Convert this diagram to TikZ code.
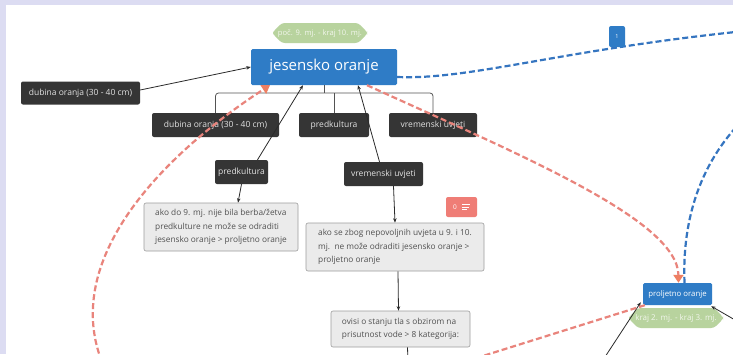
\documentclass[tikz,border=0pt]{standalone}
\usepackage{fontspec}
\setmainfont{Open Sans}
\usetikzlibrary{arrows.meta,shapes.misc,calc}
\definecolor{lav}{HTML}{DCDCF2}
\definecolor{darkn}{HTML}{353535}
\definecolor{darkt}{HTML}{E2E2E2}
\definecolor{bluen}{HTML}{2F7CC6}
\definecolor{greenn}{HTML}{B8D39E}
\definecolor{greent}{HTML}{F2F6EC}
\definecolor{grayf}{HTML}{EBEBEB}
\definecolor{grayb}{HTML}{9C9C9C}
\definecolor{grayt}{HTML}{505050}
\definecolor{redl}{HTML}{E9847C}
\definecolor{redh}{HTML}{EE7F62}
\definecolor{bluel}{HTML}{3575C0}
\definecolor{badger}{HTML}{EF7D76}
\definecolor{linec}{HTML}{2A2A2A}
\begin{document}
\begin{tikzpicture}[x=1pt,y=-1pt,
  darkbox/.style={fill=darkn, rounded corners=2pt, text=darkt, font=\fontsize{8.5}{10}\selectfont, inner sep=0pt, minimum height=24pt},
  bluebox/.style={fill=bluen, rounded corners=1.5pt, text=white, inner sep=0pt},
  greenbox/.style={chamfered rectangle, chamfered rectangle xsep=4pt, chamfered rectangle ysep=5pt, fill=greenn, rounded corners=3pt, text=greent, inner sep=0pt},
  graybox/.style={fill=grayf, draw=grayb, line width=0.6pt, rounded corners=2pt, text=grayt, font=\fontsize{8.3}{13.5}\selectfont, align=left, inner xsep=5pt, inner ysep=0pt, anchor=center},
  arr/.style={draw=linec, line width=0.8pt, -{Stealth[length=4.5pt,width=3.5pt]}},
  plain/.style={draw=linec, line width=0.8pt},
  tree/.style={draw=darkn!85, line width=0.8pt, rounded corners=3pt},
  reddash/.style={draw=redl, line width=2.2pt, dash pattern=on 6pt off 3pt},
  bluedash/.style={draw=bluel, line width=2.2pt, dash pattern=on 6pt off 3pt},
  redtip/.style={-{Triangle[length=8pt,width=10pt,fill=redh,color=redh]}},
]
\useasboundingbox (0,0) rectangle (733,354);
\fill[lav] (0,0) rectangle (733,354);
\fill[white] (6,5) rectangle (733,354);
\clip (0,0) rectangle (733,354);

% nodes
\node[greenbox, minimum width=94pt, minimum height=20pt, font=\fontsize{7.6}{9}\selectfont] (g1) at (320,33) {poč. 9. mj. - kraj 10. mj.};
\node[bluebox, minimum width=146pt, minimum height=36pt, font=\fontsize{15}{17}\selectfont] (jes) at (324,67) {jesensko oranje};
\node[darkbox, minimum width=119pt, minimum height=23pt] (d0) at (80.5,93) {dubina oranja (30 - 40 cm)};
\node[darkbox, minimum width=127pt] (c1) at (215.5,125) {dubina oranja (30 - 40 cm)};
\node[darkbox, minimum width=70pt] (c2) at (334,125) {predkultura};
\node[darkbox, minimum width=88pt] (c3) at (433,125) {vremenski uvjeti};
\node[darkbox, minimum width=53pt] (p2) at (241.5,172) {predkultura};
\node[darkbox, minimum width=79pt] (v2) at (383.5,174) {vremenski uvjeti};
\node[graybox, minimum width=154pt, minimum height=48pt] (b1) at (221,227) {ako do 9. mj. nije bila berba/žetva\\predkulture ne može se odraditi\\jesensko oranje > proljetno oranje};
\node[graybox, minimum width=178pt, minimum height=48pt] (b2) at (395,247) {ako se zbog nepovoljnih uvjeta u 9. i 10.\\mj.\ \ ne može odraditi jesensko oranje >\\proljetno oranje};
\node[graybox, minimum width=139pt, minimum height=36pt] (b3) at (400.5,329) {ovisi o stanju tla s obzirom na\\prisutnost vode > 8 kategorija:};
\node[fill=badger, rounded corners=2pt, minimum width=31pt, minimum height=20pt, inner sep=0pt] (badge0) at (461.5,207) {};
\node[text=white, font=\fontsize{6.5}{7}\selectfont, inner sep=0pt] (zero) at (455,207) {0};
\draw[white, line width=0.8pt] (462,204.5) -- (470,204.5) (462,207) -- (468.5,207) (462,209.5) -- (466.5,209.5);
\node[bluebox, minimum width=69pt, minimum height=22pt, font=\fontsize{7.8}{9}\selectfont] (pro) at (677.5,294) {proljetno oranje};
\node[greenbox, minimum width=94pt, minimum height=20pt, font=\fontsize{8}{9}\selectfont] (g2) at (676,318) {kraj 2. mj. - kraj 3. mj.};

% outside coordinates
\coordinate (bar) at (324,93);
\coordinate (srcA) at (102,362);
\coordinate (srcB) at (470,360);
\coordinate (srcC) at (603,360);
\coordinate (srcD) at (742,324);
\coordinate (srcE) at (408,362);
\coordinate (farR) at (745,31);
\coordinate (farR2) at (748,115);

% tree
\draw[tree] (c1.north) |- (bar) -| (c3.north);
\draw[tree] (jes.south) -- (bar);
\draw[tree] (c2.north) -- (c2.north |- bar);

% black arrows
\draw[arr] ([yshift=3pt]d0.east) -- (jes.west);
\draw[arr] ([xshift=16pt]p2.north) -- ([xshift=-21pt]jes.south);
\draw[arr] ([xshift=-4pt]v2.north) -- ([xshift=34pt]jes.south);
\draw[arr] (p2.south) -- ([xshift=17pt]b1.north);
\draw[arr] ([xshift=10pt]v2.south) -- (b2.north);
\draw[arr] ([xshift=3pt]b2.south) -- ([xshift=-2pt]b3.north);
\draw[plain] ([xshift=7pt]b3.south) -- (srcE);
\draw[arr] (srcC) -- ([xshift=-2pt,yshift=3pt]pro.south west);
\draw[arr] (srcD) -- ([xshift=-1pt,yshift=-1pt]pro.south east);

% dashed connectors
\draw[reddash, redtip] ([xshift=43pt]jes.south) .. controls (520,155) and (678,220) .. ([xshift=1pt]pro.north);
\draw[reddash, redtip] (srcA) .. controls (60,255) and (170,150) .. ([xshift=-54pt]jes.south);
\draw[reddash] ([xshift=2pt]pro.south west) -- (srcB);
\draw[bluedash] ([yshift=-10pt]jes.east) .. controls (470,80) and (560,50) .. (farR);
\draw[bluedash] ([xshift=7pt]pro.north) .. controls (682,220) and (700,160) .. (farR2);
\node[bluebox, rounded corners=2pt, minimum width=16pt, minimum height=21pt, font=\fontsize{5.5}{6}\selectfont] (one) at (617,36.5) {1};
\end{tikzpicture}
\end{document}
